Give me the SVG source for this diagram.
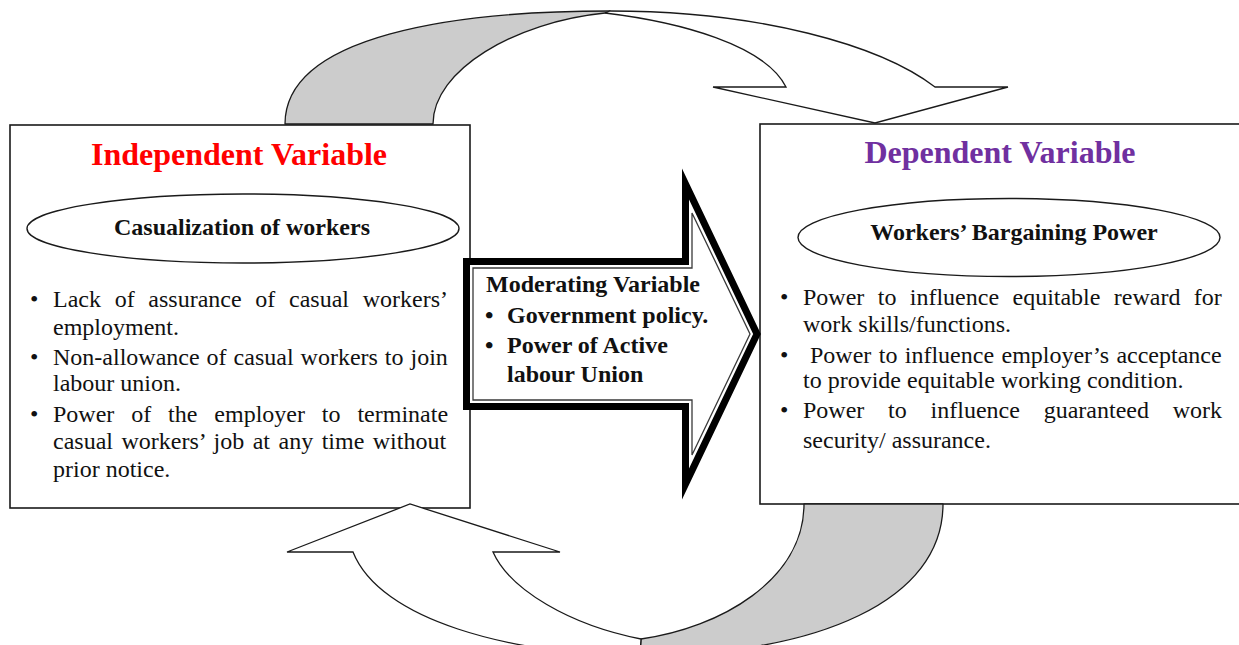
<svg xmlns="http://www.w3.org/2000/svg" width="1239" height="645" viewBox="0 0 1239 645">
  <style>
    .box { fill: #ffffff; stroke: #1a1a1a; stroke-width: 1.6; }
    .oval { fill: #ffffff; stroke: #1a1a1a; stroke-width: 1.4; }
    .band { fill: #cccccc; stroke: #1a1a1a; stroke-width: 1.3; stroke-linejoin: round; }
    .front { fill: #ffffff; stroke: #1a1a1a; stroke-width: 1.3; stroke-linejoin: miter; }
    text { font-family: 'Liberation Serif', 'DejaVu Serif', serif; }
    .t { font-size: 24px; fill: #111111; }
    .b { font-weight: bold; }
    .title { font-size: 32px; font-weight: bold; }
  </style>

  <!-- Independent variable box; justified lines use word-spacing -->
  <g id="independent">
    <rect class="box" x="10" y="125" width="460" height="383"/>
    <text class="title" x="239" y="165" text-anchor="middle" fill="#ff0000">Independent Variable</text>
    <ellipse class="oval" cx="243" cy="228.5" rx="216" ry="34.5"/>
    <text class="t b" x="242" y="235" text-anchor="middle">Casualization of workers</text>
    <text class="t" x="30" y="307">•</text>
    <text class="t" x="53" y="307" style="word-spacing:7.7px">Lack of assurance of casual workers’</text>
    <text class="t" x="53" y="335">employment.</text>
    <text class="t" x="30" y="365">•</text>
    <text class="t" x="53" y="365" style="word-spacing:1px">Non-allowance of casual workers to join</text>
    <text class="t" x="53" y="391">labour union.</text>
    <text class="t" x="30" y="422">•</text>
    <text class="t" x="53" y="422" style="word-spacing:10.9px">Power of the employer to terminate</text>
    <text class="t" x="53" y="449" style="word-spacing:2.5px">casual workers’ job at any time without</text>
    <text class="t" x="53" y="477">prior notice.</text>
  </g>

  <!-- Dependent variable box -->
  <g id="dependent">
    <rect class="box" x="760" y="124" width="500" height="380"/>
    <text class="title" x="1000" y="163" text-anchor="middle" fill="#7030a0">Dependent Variable</text>
    <ellipse class="oval" cx="1009" cy="237.5" rx="211" ry="39"/>
    <text class="t b" x="1014" y="240" text-anchor="middle">Workers’ Bargaining Power</text>
    <text class="t" x="780" y="305">•</text>
    <text class="t" x="803" y="305" style="word-spacing:7.4px">Power to influence equitable reward for</text>
    <text class="t" x="803" y="332">work skills/functions.</text>
    <text class="t" x="780" y="363">•</text>
    <text class="t" x="810" y="363" style="word-spacing:1.4px">Power to influence employer’s acceptance</text>
    <text class="t" x="803" y="388">to provide equitable working condition.</text>
    <text class="t" x="780" y="418">•</text>
    <text class="t" x="803" y="418" style="word-spacing:17.8px">Power to influence guaranteed work</text>
    <text class="t" x="803" y="448">security/ assurance.</text>
  </g>

  <!-- Moderating variable: block arrow with thick-thin border -->
  <g id="moderating">
    <polygon points="466.5,261.5 685.5,261.5 685.5,184 757,334 685.5,484 685.5,406.5 466.5,406.5" fill="#ffffff" stroke="#000000" stroke-width="7" stroke-linejoin="miter" stroke-miterlimit="10"/>
    <polygon points="473,268 692,268 692,213 750,334 692,455 692,400 473,400" fill="none" stroke="#3a3a3a" stroke-width="1.3"/>
    <text class="t b" x="486" y="292">Moderating Variable</text>
    <text class="t b" x="485" y="323">•</text>
    <text class="t b" x="507" y="323">Government policy.</text>
    <text class="t b" x="485" y="353">•</text>
    <text class="t b" x="507" y="353">Power of Active</text>
    <text class="t b" x="507" y="382">labour Union</text>
  </g>

  <!-- Feedback loop: curved arrows between the two boxes -->
  <g id="connectors">
    <!-- upper curved arrow, independent to dependent -->
    <path class="band" d="M285,124 C285,35 455,11 610,11 L605,13 C515,22 433,70 433,124 Z"/>
    <path class="front" d="M610,11 C760,11 880,45 935,87 L1008,87 L875,123 L713,87 L786,87 C765,45 680,22 605,13 Z"/>
    <!-- lower curved arrow, dependent back to independent -->
    <path class="band" d="M804,504 L943,504 C943,600 820,655 640,655 L641,639 C720,628 804,580 804,504 Z"/>
    <path class="front" d="M640,655 C510,655 380,620 353,552 L287,552 L410,504 L560,552 L493,552 C510,590 570,625 641,639 Z"/>
  </g>
</svg>
